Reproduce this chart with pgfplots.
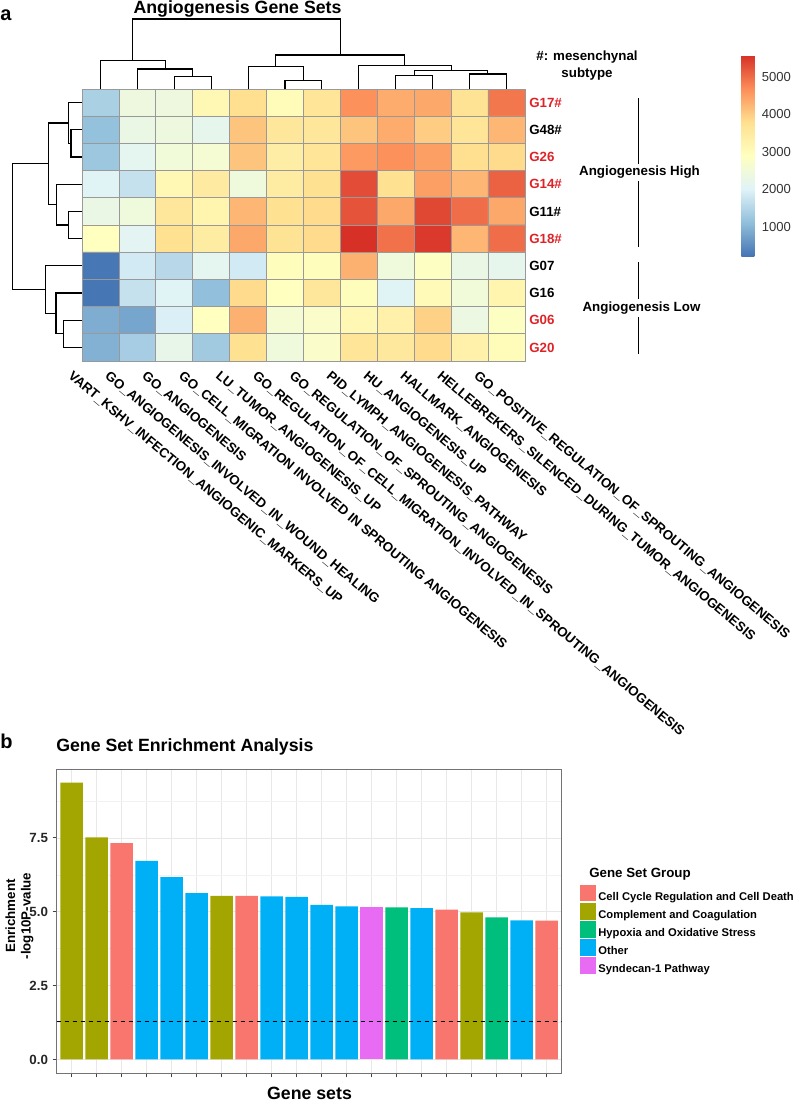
\documentclass[border=0pt]{standalone}
\usepackage{pgfplots}
\pgfplotsset{compat=1.18}
\usepackage{fontspec}
\setmainfont{Liberation Sans}
\usetikzlibrary{calc}
\definecolor{gsalmon}{HTML}{F8766D}
\definecolor{golive}{HTML}{A3A500}
\definecolor{ggreen}{HTML}{00BF7D}
\definecolor{gblue}{HTML}{00B0F6}
\definecolor{gpink}{HTML}{E76BF3}
\definecolor{lblred}{RGB}{222,35,40}
\pgfplotsset{colormap={rdylbu}{rgb255=(69,117,180) rgb255=(145,191,219) rgb255=(224,243,248) rgb255=(255,255,191) rgb255=(254,224,144) rgb255=(252,141,89) rgb255=(215,48,39)}}
\pgfplotsset{dend/.style={black, line width=0.8pt, line cap=rect, forget plot}}
\pgfplotsset{gbar/.style={ybar, bar width=0.9, bar shift=0pt, draw=none, fill=#1,
  legend image code/.code={\fill[#1] (0pt,-3.2pt) rectangle (12.6pt,9.4pt);}}}
\pgfplotstableread{
x y v
1 1 1400
2 1 2400
3 1 2400
4 1 3100
5 1 3800
6 1 3000
7 1 3650
8 1 4650
9 1 4350
10 1 4400
11 1 3700
12 1 4900
1 2 1150
2 2 2300
3 2 2400
4 2 2200
5 2 4100
6 2 3600
7 2 3600
8 2 4100
9 2 4350
10 2 4000
11 2 3650
12 2 4250
1 3 1250
2 3 2150
3 3 2500
4 3 2600
5 3 4100
6 3 3400
7 3 3650
8 3 4550
9 3 4650
10 3 4500
11 3 3800
12 3 3850
1 4 2050
2 4 1700
3 4 3100
4 4 3500
5 4 2450
6 4 3450
7 4 3750
8 4 5300
9 4 3750
10 4 4500
11 4 4250
12 4 5100
1 5 2300
2 5 2450
3 5 3600
4 5 3200
5 5 4250
6 5 3750
7 5 3850
8 5 5250
9 5 4400
10 5 5350
11 5 5000
12 5 4400
1 6 2900
2 6 2100
3 6 3750
4 6 3450
5 6 4400
6 6 3700
7 6 3850
8 6 5580
9 6 4950
10 6 5500
11 6 4250
12 6 5000
1 7 250
2 7 1850
3 7 1550
4 7 2150
5 7 1850
6 7 2950
7 7 2950
8 7 4300
9 7 2450
10 7 2850
11 7 2300
12 7 2200
1 8 230
2 8 1700
3 8 2050
4 8 1130
5 8 3850
6 8 2900
7 8 3600
8 8 2950
9 8 2050
10 8 3050
11 8 2500
12 8 3200
1 9 900
2 9 800
3 9 1950
4 9 2900
5 9 4300
6 9 2600
7 9 2750
8 9 3100
9 9 3300
10 9 3950
11 9 2350
12 9 2850
1 10 950
2 10 1350
3 10 2250
4 10 1300
5 10 3750
6 10 2450
7 10 2750
8 10 3650
9 10 3550
10 10 3850
11 10 3300
12 10 3000
}\heatdata
\begin{document}
\begin{tikzpicture}
\useasboundingbox (0pt,0pt) rectangle (600pt,-825.75pt);
% ---------- overlay axis in pixel units ----------
\begin{axis}[at={(0pt,0pt)}, anchor=north west, scale only axis, width=600pt, height=825.75pt,
  xmin=0, xmax=800, ymin=0, ymax=1101, y dir=reverse, hide axis, clip=false]
% column dendrogram
\addplot[dend] coordinates {(174.3,88.5) (174.3,76.7) (211.2,76.7) (211.2,88.5)};
\addplot[dend] coordinates {(137.4,88.5) (137.4,69) (192.75,69) (192.75,76.7)};
\addplot[dend] coordinates {(100.5,88.5) (100.5,60.7) (165.1,60.7) (165.1,69)};
\addplot[dend] coordinates {(285,88.5) (285,80.7) (321.9,80.7) (321.9,88.5)};
\addplot[dend] coordinates {(248.1,88.5) (248.1,66.7) (303.45,66.7) (303.45,80.7)};
\addplot[dend] coordinates {(395.7,88.5) (395.7,75.7) (432.6,75.7) (432.6,88.5)};
\addplot[dend] coordinates {(469.5,88.5) (469.5,74) (506.4,74) (506.4,88.5)};
\addplot[dend] coordinates {(414.15,75.7) (414.15,70.7) (487.95,70.7) (487.95,74)};
\addplot[dend] coordinates {(358.8,88.5) (358.8,65.7) (451.05,65.7) (451.05,70.7)};
\addplot[dend] coordinates {(275.8,66.7) (275.8,55) (404.9,55) (404.9,65.7)};
\addplot[dend] coordinates {(132.8,60.7) (132.8,19) (340.35,19) (340.35,55)};
% row dendrogram
\addplot[dend] coordinates {(82,129.8) (71,129.8) (71,157) (82,157)};
\addplot[dend] coordinates {(82,102.6) (68.3,102.6) (68.3,143.4) (71,143.4)};
\addplot[dend] coordinates {(82,211.4) (68.3,211.4) (68.3,238.6) (82,238.6)};
\addplot[dend] coordinates {(82,184.2) (56.7,184.2) (56.7,225) (68.3,225)};
\addplot[dend] coordinates {(68.3,123) (48.3,123) (48.3,204.6) (56.7,204.6)};
\addplot[dend] coordinates {(82,320.2) (63.3,320.2) (63.3,347.4) (82,347.4)};
\addplot[dend] coordinates {(82,293) (56,293) (56,333.8) (63.3,333.8)};
\addplot[dend] coordinates {(82,265.8) (45.7,265.8) (45.7,313.4) (56,313.4)};
\addplot[dend] coordinates {(48.3,163.8) (12.7,163.8) (12.7,289.6) (45.7,289.6)};
% panel letters and titles
\node[anchor=base west, inner sep=0, font=\bfseries\fontsize{15}{18}\selectfont] at (axis cs:0,20) {a};
\node[anchor=base west, inner sep=0, font=\bfseries\fontsize{15}{18}\selectfont] at (axis cs:0,748) {b};
\node[anchor=base, inner sep=0, font=\bfseries\fontsize{13.3}{16}\selectfont] at (axis cs:237.5,13.5) {Angiogenesis Gene Sets};
\node[align=center, inner sep=0, font=\bfseries\fontsize{10}{12.75}\selectfont] at (axis cs:587,66) {\#: mesenchynal\\subtype};
% row labels
\begin{scope}[font=\bfseries\fontsize{10}{12}\selectfont]
\node[anchor=west, inner sep=0, text=lblred] at (axis cs:529,102.6) {G17\#};
\node[anchor=west, inner sep=0] at (axis cs:529,129.8) {G48\#};
\node[anchor=west, inner sep=0, text=lblred] at (axis cs:529,157) {G26};
\node[anchor=west, inner sep=0, text=lblred] at (axis cs:529,184.2) {G14\#};
\node[anchor=west, inner sep=0] at (axis cs:529,211.4) {G11\#};
\node[anchor=west, inner sep=0, text=lblred] at (axis cs:529,238.6) {G18\#};
\node[anchor=west, inner sep=0] at (axis cs:529,265.8) {G07};
\node[anchor=west, inner sep=0] at (axis cs:529,293) {G16};
\node[anchor=west, inner sep=0, text=lblred] at (axis cs:529,320.2) {G06};
\node[anchor=west, inner sep=0, text=lblred] at (axis cs:529,347.4) {G20};
% group annotation
\draw[black, line width=0.8pt] (axis cs:638.5,98) -- (axis cs:638.5,247);
\draw[black, line width=0.8pt] (axis cs:638.5,262) -- (axis cs:638.5,354);
\node[fill=white, inner xsep=0pt, inner ysep=2pt] at (axis cs:639.5,172.5) {Angiogenesis High};
\node[fill=white, inner xsep=0pt, inner ysep=2pt] at (axis cs:641.5,308) {Angiogenesis Low};
\end{scope}
% column labels
\begin{scope}[font=\bfseries\fontsize{10}{12}\selectfont]
\node[anchor=north west, inner sep=0, rotate=-40] at (axis cs:73.5,370) {VART\_KSHV\_INFECTION\_ANGIOGENIC\_MARKERS\_UP};
\node[anchor=north west, inner sep=0, rotate=-40] at (axis cs:110.4,370) {GO\_ANGIOGENESIS\_INVOLVED\_IN\_WOUND\_HEALING};
\node[anchor=north west, inner sep=0, rotate=-40] at (axis cs:147.3,370) {GO\_ANGIOGENESIS};
\node[anchor=north west, inner sep=0, rotate=-40] at (axis cs:184.2,370) {GO\_CELL\_MIGRATION INVOLVED IN SPROUTING ANGIOGENESIS};
\node[anchor=north west, inner sep=0, rotate=-40] at (axis cs:221.1,370) {LU\_TUMOR\_ANGIOGENESIS\_UP};
\node[anchor=north west, inner sep=0, rotate=-40] at (axis cs:258,370) {GO\_REGULATION\_OF\_CELL\_MIGRATION\_INVOLVED\_IN\_SPROUTING\_ANGIOGENESIS};
\node[anchor=north west, inner sep=0, rotate=-40] at (axis cs:294.9,370) {GO\_REGULATION\_OF\_SPROUTING\_ANGIOGENESIS};
\node[anchor=north west, inner sep=0, rotate=-40] at (axis cs:331.8,370) {PID\_LYMPH\_ANGIOGENESIS\_PATHWAY};
\node[anchor=north west, inner sep=0, rotate=-40] at (axis cs:368.7,370) {HU\_ANGIOGENESIS\_UP};
\node[anchor=north west, inner sep=0, rotate=-40] at (axis cs:405.6,370) {HALLMARK\_ANGIOGENESIS};
\node[anchor=north west, inner sep=0, rotate=-40] at (axis cs:442.5,370) {HELLEBREKERS\_SILENCED\_DURING\_TUMOR\_ANGIOGENESIS};
\node[anchor=north west, inner sep=0, rotate=-40] at (axis cs:479.4,370) {GO\_POSITIVE\_REGULATION\_OF\_SPROUTING\_ANGIOGENESIS};
\end{scope}
% bar chart titles
\node[anchor=base west, inner sep=0, font=\bfseries\fontsize{13.3}{16}\selectfont] at (axis cs:56,751) {Gene Set Enrichment Analysis};
\node[rotate=90, align=center, inner sep=0, font=\bfseries\fontsize{10}{11.6}\selectfont] at (axis cs:19.5,916) {Enrichment\\-log10P-value};
\node[inner sep=0, font=\bfseries\fontsize{13.3}{16}\selectfont] at (axis cs:309.5,1093) {Gene sets};
\node[anchor=base west, inner sep=0, font=\bfseries\fontsize{10}{12}\selectfont] at (axis cs:589,877) {Gene Set Group};
\end{axis}
% ---------- heatmap ----------
\begin{axis}[at={(61.5pt,-66.75pt)}, anchor=north west, scale only axis, width=332.25pt, height=204pt,
  xmin=0.5, xmax=12.5, ymin=0.5, ymax=10.5, y dir=reverse, enlargelimits=false,
  colormap name=rdylbu, point meta min=220, point meta max=5580,
  xtick={0.5,1.5,...,12.5}, ytick={0.5,1.5,...,10.5}, xticklabels={}, yticklabels={},
  major tick length=0pt, grid=major, major grid style={draw=black!40, line width=0.6pt},
  axis line style={draw=black!40, line width=0.6pt}, axis on top,
  colorbar,
  colorbar style={at={($(parent axis.north east)+(153.75pt,25.5pt)$)}, anchor=north west,
    width=9.75pt, height=150.75pt, ytick={1000,2000,3000,4000,5000},
    yticklabels={\textrm{1000},\textrm{2000},\textrm{3000},\textrm{4000},\textrm{5000}},
    major tick length=0pt, axis line style={draw=none}, grid=none,
    yticklabel style={font=\fontsize{9.8}{11}\selectfont, text=black!80, xshift=2pt}}]
\addplot[matrix plot*, mesh/cols=12, point meta=explicit] table[x=x, y=y, meta=v] {\heatdata};
\end{axis}
% ---------- bar chart ----------
\begin{axis}[at={(42.525pt,-804.975pt)}, anchor=south west, scale only axis, width=378.75pt, height=228.2pt,
  xmin=0.4, xmax=20.6, ymin=-0.47, ymax=9.83,
  xtick={1,...,20}, xticklabels={}, ytick={0,2.5,5,7.5},
  yticklabels={\textbf{0.0},\textbf{2.5},\textbf{5.0},\textbf{7.5}},
  minor ytick={1.25,3.75,6.25,8.75},
  grid=both, major grid style={draw=black!9, line width=0.55pt}, minor grid style={draw=black!5, line width=0.35pt},
  tick align=outside, tick pos=left, major tick length=3pt, minor tick length=0pt,
  tick style={black!75, line width=0.6pt},
  axis line style={draw=black!55, line width=0.7pt},
  yticklabel style={font=\bfseries\fontsize{10}{12}\selectfont, text=black!85},
  legend style={at={(1.0349,0.6211)}, anchor=north west, draw=none, fill=none, inner sep=0pt,
    font=\bfseries\fontsize{8.4}{10}\selectfont, row sep=0pt,
    nodes={inner ysep=0.4pt, inner xsep=1.5pt}},
  legend cell align=left]
\addplot[gbar=gsalmon] coordinates {(3,7.32) (8,5.54) (16,5.07) (20,4.70)};
\addlegendentry{Cell Cycle Regulation and Cell Death}
\addplot[gbar=golive] coordinates {(1,9.37) (2,7.52) (7,5.54) (17,4.98)};
\addlegendentry{Complement and Coagulation}
\addplot[gbar=ggreen] coordinates {(14,5.15) (18,4.81)};
\addlegendentry{Hypoxia and Oxidative Stress}
\addplot[gbar=gblue] coordinates {(4,6.72) (5,6.17) (6,5.63) (9,5.52) (10,5.50) (11,5.23) (12,5.18) (15,5.12) (19,4.71)};
\addlegendentry{Other}
\addplot[gbar=gpink] coordinates {(13,5.15)};
\addlegendentry{Syndecan-1 Pathway}
\addplot[black, line width=0.6pt, dash pattern=on 3.5pt off 2.5pt, forget plot] coordinates {(0.4,1.301) (20.6,1.301)};
\end{axis}
\end{tikzpicture}
\end{document}
